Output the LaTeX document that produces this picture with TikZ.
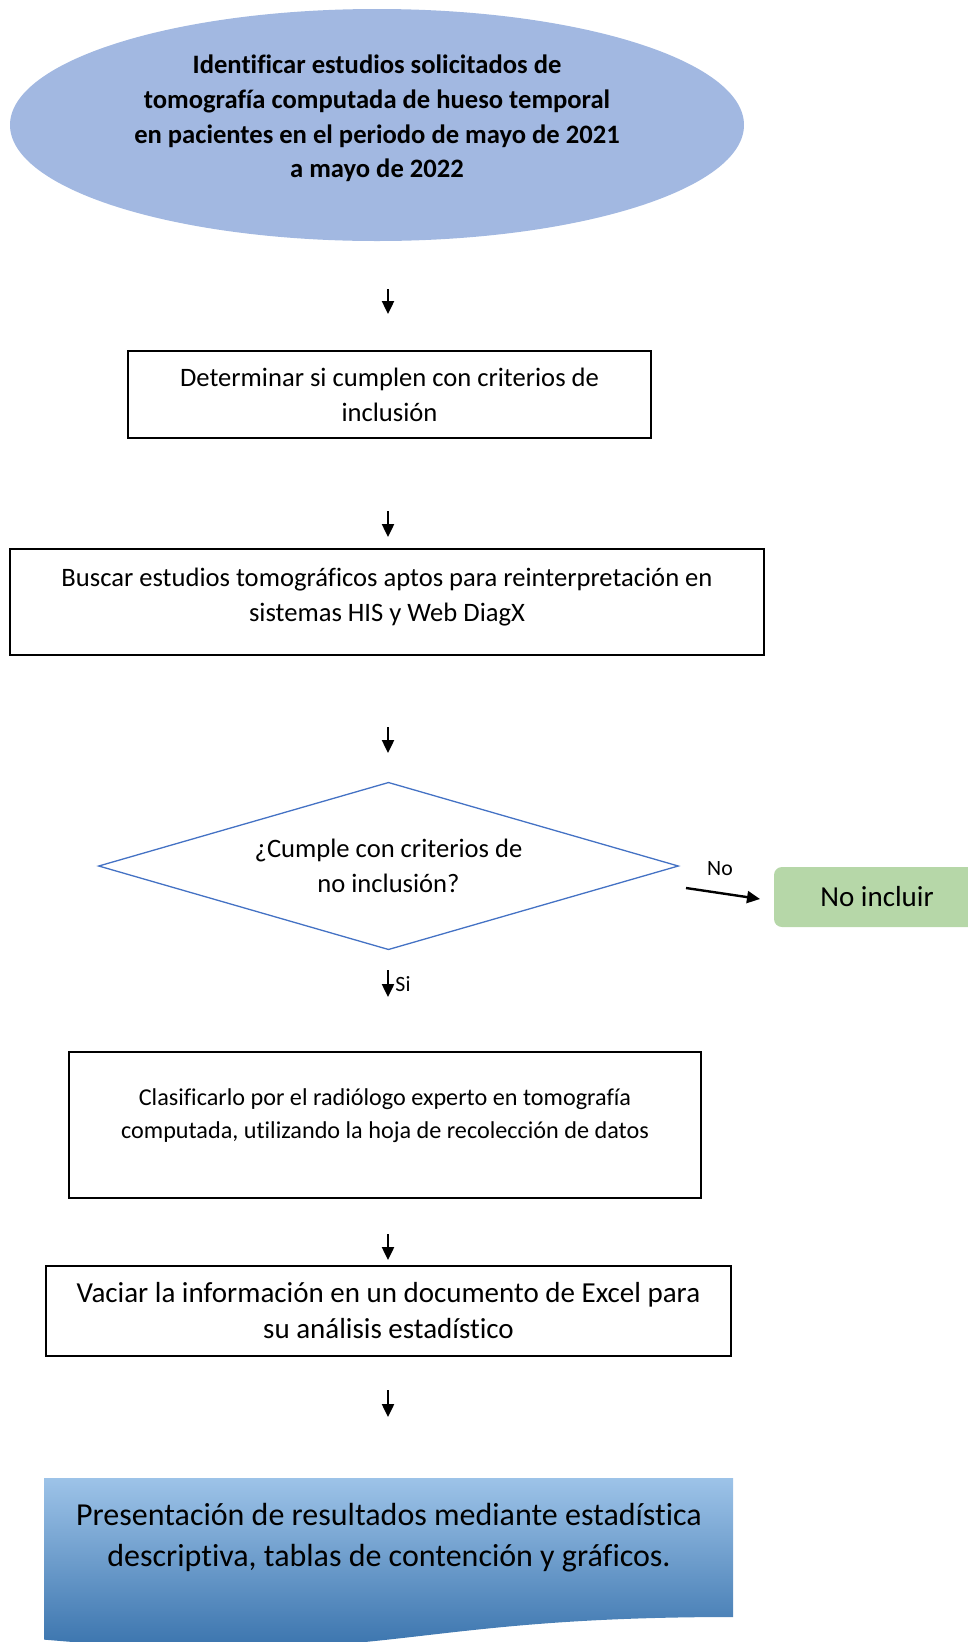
\documentclass[tikz,border=0pt]{standalone}
\usepackage{fontspec}
\setmainfont{Carlito}[Ligatures=CommonOff]
\usetikzlibrary{arrows.meta,shapes.geometric}
\definecolor{ellblue}{RGB}{162,184,225}
\definecolor{incgreen}{RGB}{182,215,168}
\definecolor{diaedge}{RGB}{68,114,196}
\definecolor{docTop}{RGB}{157,195,232}
\definecolor{docMid}{RGB}{98,158,214}
\definecolor{docBot}{RGB}{46,106,166}

\begin{document}
\begin{tikzpicture}[x=1pt,y=-1pt,
  fs/.style={font=\fontsize{26.6}{35}\selectfont},      % 11 pt
  fsten/.style={font=\fontsize{24.2}{33}\selectfont},   % 10 pt
  fstw/.style={font=\fontsize{29}{35.5}\selectfont},    % 12 pt
  fsbig/.style={font=\fontsize{32}{41}\selectfont},
  fslab/.style={font=\fontsize{21.8}{26}\selectfont},   % 9 pt
  stepbox/.style={draw, line width=2pt, fs, align=center, inner sep=0pt},
  ellstart/.style={ellipse, fill=ellblue, font=\fontsize{26.6}{34.6}\selectfont\bfseries,
    align=center, inner sep=0pt, text depth=17pt, minimum width=734, minimum height=232},
  decide/.style={diamond, draw=diaedge, line width=1.3pt, fs, align=center,
    inner sep=0pt, shape aspect=3.46, minimum width=580, minimum height=167.5},
  outbox/.style={rounded corners=8pt, fill=incgreen, fstw, inner sep=0pt},
  arr/.style={line width=2.4pt, -{Triangle[length=13pt,width=12pt]}},
]
\useasboundingbox (0,0) rectangle (968,1642);
\clip (0,0) rectangle (968,1642);
\def\xc{388}
% start ellipse
\node[ellstart] (ident) at (377,125) {Identificar estudios solicitados de\\
  tomografía computada de hueso temporal\\
  en pacientes en el periodo de mayo de 2021\\
  a mayo de 2022};
% process boxes
\node[stepbox, minimum width=523, minimum height=87] (incl) at (389.5,394.5)
  {Determinar si cumplen con criterios de\\inclusión};
\node[stepbox, text depth=14pt, minimum width=753.5, minimum height=106] (busca) at (387,602)
  {Buscar estudios tomográficos aptos para reinterpretación en\\sistemas HIS y Web DiagX};
\node[decide] (crit) at (388.5,866) {¿Cumple con criterios de\\no inclusión?};
\node[outbox, minimum width=206, minimum height=60] (noinc) at (877,897) {No incluir};
\node[stepbox, fsten, text depth=23pt, minimum width=632, minimum height=146] (clasif) at (385,1125)
  {Clasificarlo por el radiólogo experto en tomografía\\
   computada, utilizando la hoja de recolección de datos};
\node[stepbox, fstw, minimum width=685, minimum height=90] (vaciar) at (388.5,1310.5)
  {Vaciar la información en un documento de Excel para\\su análisis estadístico};
% document shape with gradient
\shade[top color=docTop, middle color=docMid, bottom color=docBot]
  (44,1478) -- (733,1478) -- (733,1617)
  .. controls (388.5,1617) and (388.5,1669.6) .. (44,1639.6) -- cycle;
\node[fsbig, align=center] (pres) at (389,1538)
  {Presentación de resultados mediante estadística\\descriptiva, tablas de contención y gráficos.};
% small down arrows between the steps
\foreach \n/\ya/\yb in {1/289/314, 2/511/537, 3/727/753, 4/970/997, 5/1234/1260, 6/1390/1417}{
  \coordinate (t\n) at (\xc,\ya);
  \coordinate (h\n) at (\xc,\yb);
  \draw[arr] (t\n) -- (h\n);
}
\node[fslab] (si) at (403,984) {Si};
% exit to "No incluir"
\coordinate (notail) at (686,888);
\coordinate (nohead) at (760,899);
\draw[arr] (notail) -- (nohead);
\node[fslab] (no) at (720,869) {No};
\end{tikzpicture}
\end{document}
